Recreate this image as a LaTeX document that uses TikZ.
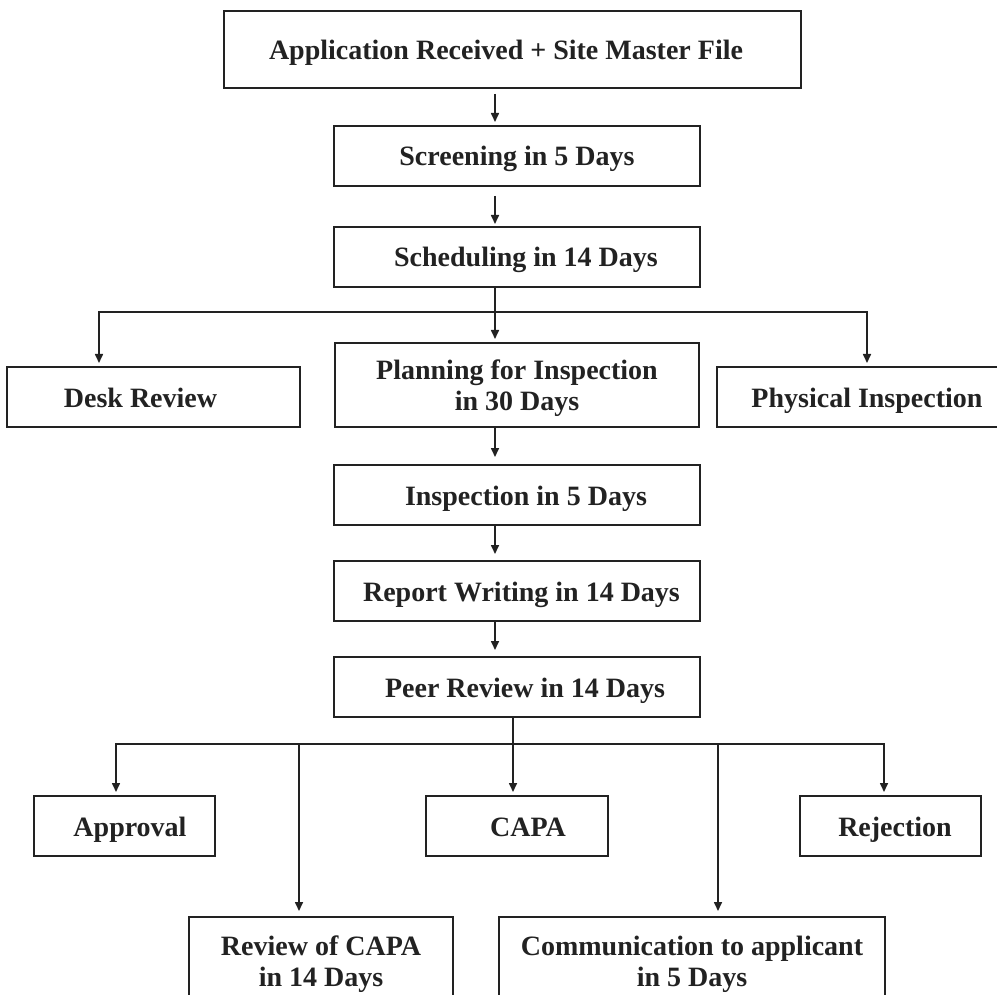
\documentclass[tikz,border=0pt]{standalone}
\usepackage{fontspec}
\setmainfont{Liberation Serif}
\usetikzlibrary{arrows.meta,calc}
\definecolor{ink}{HTML}{222222}
\newcommand\shR[2]{\kern#1\kern#1#2}
\newcommand\shL[2]{#2\kern#1\kern#1}
\newcommand\topstrut{\rule{0pt}{26pt}}
\begin{document}
\begin{tikzpicture}[x=1pt,y=-1pt,
  box/.style={draw=ink,line width=2pt,minimum height=60pt,inner sep=0pt,
    font=\fontsize{28}{31}\selectfont\bfseries,text=ink,align=center},
  one/.style={box,text height=21pt,text depth=1pt},
  two/.style={box},
  ln/.style={draw=ink,line width=1.6pt},
  arr/.style={ln,-{Triangle[length=9pt,width=8pt]}}]
\clip (0,0) rectangle (997,995);
\fill[white] (0,0) rectangle (997,995);
% boxes
\node[one,minimum width=577pt,minimum height=77pt] (top) at (512.5,49.5) {\shL{6.5pt}{Application Received + Site Master File}};
\node[one,minimum width=366pt] (scr) at (517,156) {Screening in 5 Days};
\node[one,minimum width=366pt] (sch) at (517,257) {\shR{9pt}{Scheduling in 14 Days}};
\node[one,minimum width=293pt] (desk) at (153.5,397) {\shL{13pt}{Desk Review}};
\node[two,minimum width=364pt,minimum height=84pt] (plan) at (517,385) {\topstrut Planning for Inspection\\in 30 Days};
\node[one,minimum width=293pt] (phys) at (863.5,397) {\shR{3.5pt}{Physical Inspection}};
\node[one,minimum width=366pt] (insp) at (517,495) {\shR{9pt}{Inspection in 5 Days}};
\node[one,minimum width=366pt] (rep) at (517,591) {\shR{4.5pt}{Report Writing in 14 Days}};
\node[one,minimum width=366pt] (peer) at (517,687) {\shR{8pt}{Peer Review in 14 Days}};
\node[one,minimum width=181pt] (appr) at (124.5,826) {\shR{5.5pt}{Approval}};
\node[one,minimum width=182pt] (capa) at (517,826) {\shR{11pt}{CAPA}};
\node[one,minimum width=181pt] (rej) at (890.5,826) {\shR{4.5pt}{Rejection}};
\node[two,minimum width=264pt,minimum height=88pt] (rev) at (321,961) {\topstrut Review of CAPA\\in 14 Days};
\node[two,minimum width=386pt,minimum height=88pt] (comm) at (692,961) {\topstrut Communication to applicant\\in 5 Days};
% junction coordinates
\coordinate (ax) at (495,0);
\coordinate (jC) at (495,312);
\coordinate (jL) at (99,312);
\coordinate (jR) at (867,312);
\coordinate (kC) at (513,744);
\coordinate (kA) at (116,744);
\coordinate (kB) at (299,744);
\coordinate (kD) at (718,744);
\coordinate (kE) at (884,744);
% connectors
\draw[arr,shorten <=5pt,shorten >=3pt] (top.south -| ax) -- (scr.north -| ax);
\draw[arr,shorten <=9pt,shorten >=2pt] (scr.south -| ax) -- (sch.north -| ax);
\draw[arr,shorten >=3pt] (sch.south -| ax) -- (plan.north -| ax);
\draw[arr,shorten >=3pt] (jC) -| (desk.north -| jL);
\draw[arr,shorten >=3pt] (jC) -| (phys.north -| jR);
\draw[arr,shorten >=7pt] (plan.south -| ax) -- (insp.north -| ax);
\draw[arr,shorten >=6pt] (insp.south -| ax) -- (rep.north -| ax);
\draw[arr,shorten >=6pt] (rep.south -| ax) -- (peer.north -| ax);
\draw[arr,shorten >=3pt] (peer.south -| kC) -- (capa.north -| kC);
\draw[arr,shorten >=3pt] (kC) -| (appr.north -| kA);
\draw[arr,shorten >=3pt] (kC) -| (rej.north -| kE);
\draw[arr,shorten >=5pt] (kB) -- (rev.north -| kB);
\draw[arr,shorten >=5pt] (kD) -- (comm.north -| kD);
\end{tikzpicture}
\end{document}
